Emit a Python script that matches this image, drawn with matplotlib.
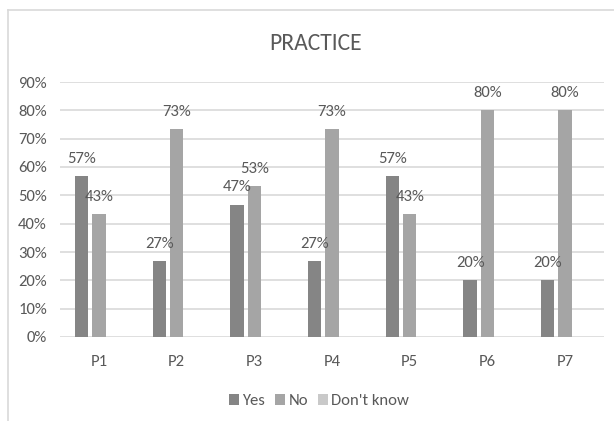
import matplotlib
matplotlib.use("Agg")
import matplotlib.pyplot as plt
from matplotlib.patches import Patch
from matplotlib.lines import Line2D
import numpy as np

plt.rcParams['font.family'] = ['Carlito', 'Liberation Sans Narrow', 'Lato', 'DejaVu Sans']

categories = ["P1", "P2", "P3", "P4", "P5", "P6", "P7"]
yes_vals = [56.7, 26.7, 46.7, 26.7, 56.7, 20.0, 20.0]
no_vals = [43.3, 73.3, 53.3, 73.3, 43.3, 80.0, 80.0]
dk_vals = [0, 0, 0, 0, 0, 0, 0]
series_names = ["Yes", "No", "Don't know"]
y_ticks = [0, 10, 20, 30, 40, 50, 60, 70, 80, 90]

colors = ["#858585", "#a5a5a5", "#c9c9c9"]
text_col = "#595959"

fig = plt.figure(figsize=(6.14, 4.21), dpi=100)
ax = fig.add_axes([60/614, 1-337/421, 544/614, 255/421])

x = np.arange(len(categories))
pitch = 0.223
width = 0.171
for i, (vals, c) in enumerate(zip([yes_vals, no_vals, dk_vals], colors)):
    pos = x + (i - 1) * pitch
    ax.bar(pos, vals, width=width, color=c, zorder=2)
    for xp, v in zip(pos, vals):
        if v > 0:
            ax.annotate(f"{v:.0f}%", (xp, v), xytext=(0, 12.5), textcoords="offset points",
                        ha="center", va="center", fontsize=12, color=text_col)

ax.set_xlim(-0.5, len(categories) - 0.5)
ax.set_ylim(0, 90)
ax.set_yticks(y_ticks)
ax.set_yticklabels([f"{t}%" for t in y_ticks])
ax.set_xticks(x)
ax.set_xticklabels(categories)
ax.tick_params(axis='both', length=0, labelsize=12, colors=text_col)
ax.tick_params(axis='y', pad=9.5)
ax.tick_params(axis='x', pad=13)
ax.yaxis.grid(True, color="#d9d9d9", linewidth=1.2, zorder=0)
ax.set_axisbelow(True)
for s in ax.spines.values():
    s.set_visible(False)

fig.text(316/614, 1-44/421, "PRACTICE", ha="center", va="center", fontsize=17, color=text_col)

handles = [Patch(facecolor=c, edgecolor='none') for c in colors]
fig.legend(handles, series_names, loc="center", bbox_to_anchor=(319/614, 1-401/421), ncol=3,
           frameon=False, fontsize=12, handlelength=0.6, handleheight=0.6, handletextpad=0.2,
           columnspacing=0.6, labelcolor=text_col)

# outer chart border
fig.add_artist(Line2D([8/614, 8/614], [0, 1-10/421], transform=fig.transFigure, color="#d9d9d9", lw=1.2))
fig.add_artist(Line2D([8/614, 1], [1-10/421, 1-10/421], transform=fig.transFigure, color="#d9d9d9", lw=1.2))

fig.savefig("out.png", dpi=100)
